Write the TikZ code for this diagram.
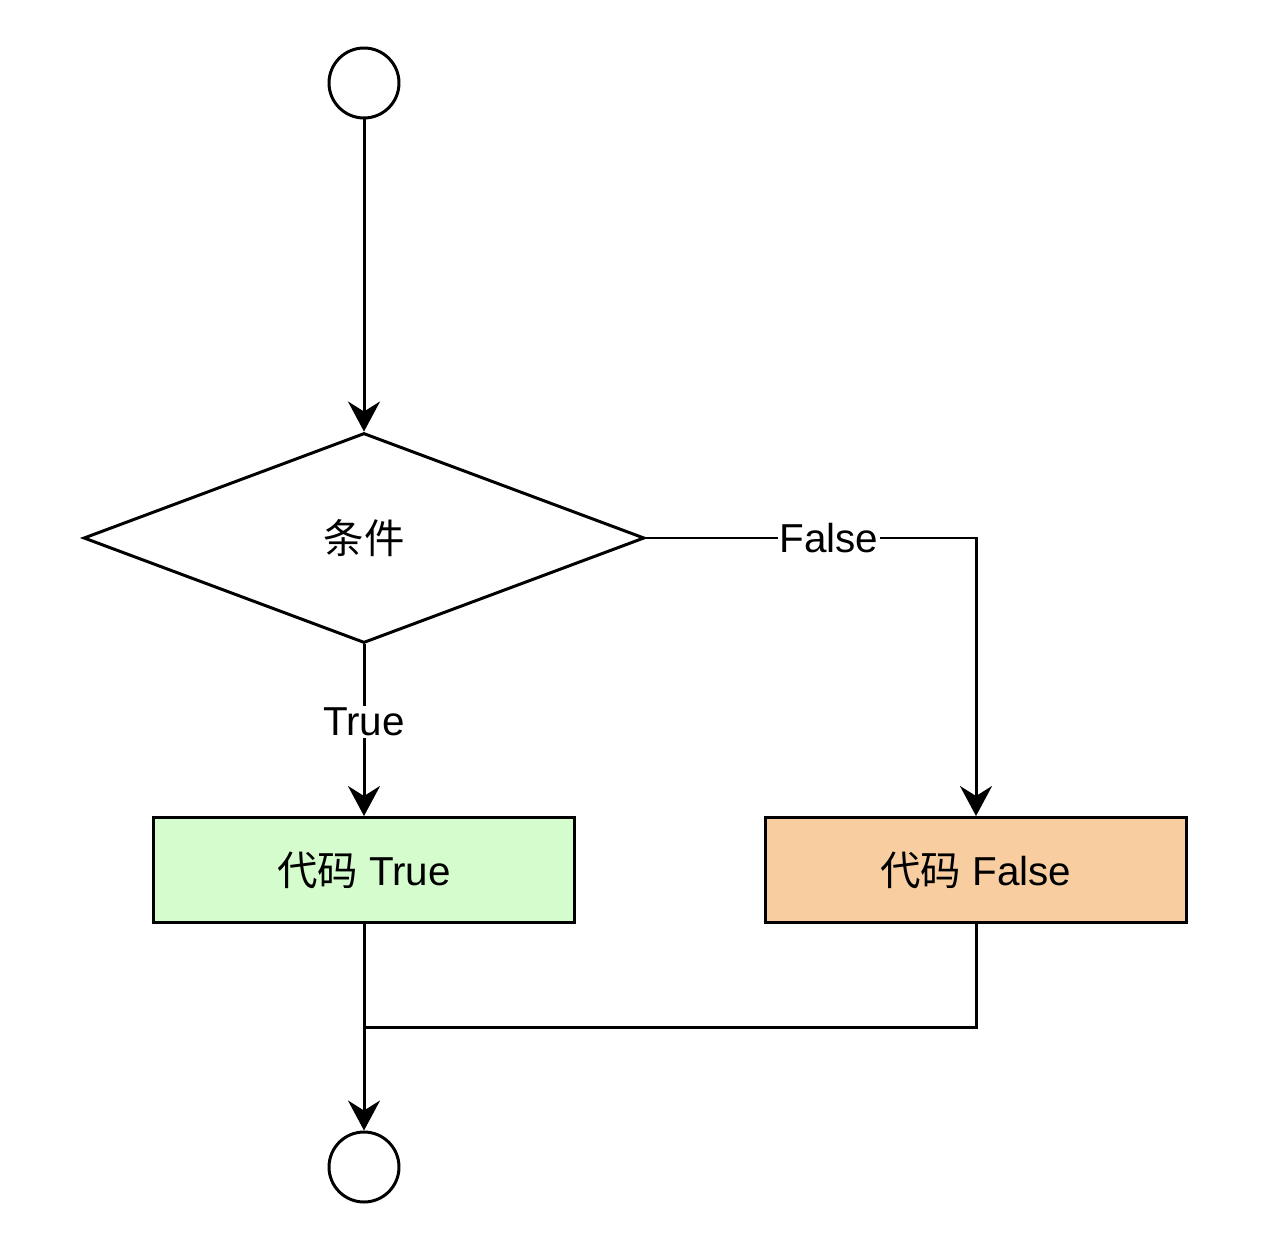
\documentclass[tikz,border=0pt]{standalone}
\usepackage{fontspec}
\setmainfont{Liberation Sans}
\newfontfamily\cjk{Noto Sans CJK SC}
\usetikzlibrary{arrows.meta,shapes.geometric}
\definecolor{truegreen}{HTML}{D4FCCC}
\definecolor{falseorange}{HTML}{F8CEA0}
\begin{document}
\begin{tikzpicture}[x=0.02cm,y=-0.02cm,line width=1.7pt,
  every node/.style={font=\fontsize{23}{28}\selectfont},
  flow/.style={-{Stealth[length=0.6cm,width=0.64cm,inset=0.2cm]}},
  term/.style={circle,draw,minimum size=1.4cm,inner sep=0pt},
  cond/.style={diamond,draw,minimum width=11.22cm,minimum height=4.2cm,inner sep=0pt,aspect=2.67},
  block/.style={rectangle,draw,minimum width=8.42cm,minimum height=2.1cm,inner sep=0pt},
  lbl/.style={fill=white,inner sep=1pt}]
\useasboundingbox (0,0) rectangle (1266,1246);
\node[term] (start) at (364,83) {};
\node[cond] (cond) at (364,538) {\cjk 条件};
\node[block,fill=truegreen] (codetrue) at (364,870) {{\cjk 代码} True};
\node[block,fill=falseorange] (codefalse) at (976,870) {{\cjk 代码} False};
\node[term] (stop) at (364,1167) {};
\coordinate (merge) at (364,1027);
\draw[flow] (start) -- (cond.north);
\draw[flow] (cond.south) -- node[lbl,pos=0.45] {True} (codetrue.north);
\draw[flow] (cond.east) -| node[lbl,pos=0.277] {False} (codefalse.north);
\draw[flow] (codetrue.south) -- (stop.north);
\draw (codefalse.south) |- (merge);
\end{tikzpicture}
\end{document}
